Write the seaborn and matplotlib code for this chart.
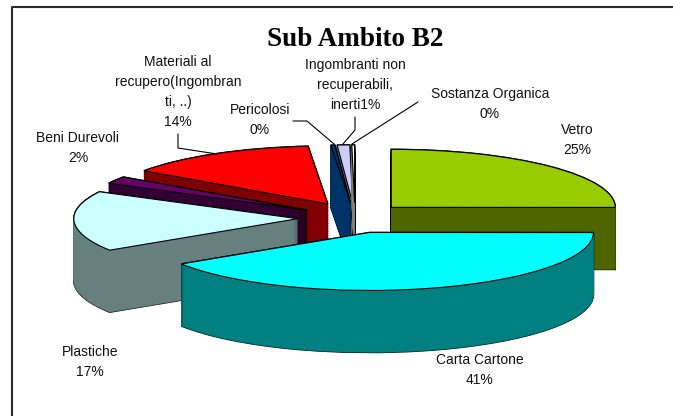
import matplotlib
matplotlib.use("Agg")
import matplotlib.pyplot as plt
import seaborn as sns

# valori
categorie = ["Vetro", "Carta Cartone", "Plastiche", "Beni Durevoli",
             "Materiali al recupero", "Pericolosi", "Ingombranti", "Sostanza Organica"]
valori = [25.0, 40.8, 16.8, 2.0, 13.9, 0.3, 0.9, 0.2]
etichette = ["Vetro\n25%", "Carta Cartone\n41%", "Plastiche\n17%", "Beni Durevoli\n2%",
             "Materiali al\nrecupero(Ingombran\nti, ..)\n14%", "Pericolosi\n0%",
             "Ingombranti non\nrecuperabili,\ninerti1%", "Sostanza Organica\n0%"]
colori_sopra = ["#99CC00", "#00FFFF", "#CCFFFF", "#660066", "#FF0000", "#003366", "#CCCCFF", "#FFFFFF"]
colori_lato = ["#4D6600", "#008080", "#668080", "#330033", "#800000", "#003366", "#666680", "#808080"]

W, H = 673, 416
CX, CY = 350, 218    # centro torta in pixel
RX, RY = 224, 58     # raggi ellisse
PROF = 62            # spessore 3D in pixel
ESPLOSO = 0.26

sns.set_theme(style="white")
plt.rcParams["font.family"] = ["Liberation Sans", "DejaVu Sans"]

fig = plt.figure(figsize=(W / 100, H / 100), dpi=100)
ax = fig.add_axes([0, 0, 1, 1])

# ordine di disegno dal fondo verso il davanti
ordine = {6: 0, 7: 1, 5: 2, 4: 3, 0: 4, 3: 5, 2: 6, 1: 7}
# piccoli spostamenti in pixel per la prospettiva dell'originale
sposta = {1: (3, 0), 2: (6, 0), 3: (7, 0), 4: (7, -1), 5: (5, 0), 6: (5, 0), 7: (5, 0)}


def torta(dy):
    w, _ = ax.pie(valori, explode=[ESPLOSO] * len(valori), startangle=90, counterclock=False,
                  center=(0, -dy / RY), radius=1)
    for i, (dx, dyy) in sposta.items():
        c = w[i].center
        w[i].set_center((c[0] + dx / RX, c[1] - dyy / RY))
    return w


# sagoma nera del solido
for d in range(PROF, -1, -2):
    for i, w in enumerate(torta(d)):
        w.set(facecolor="black", edgecolor="black", linewidth=1.1, zorder=ordine[i] * 10 + 1)

# fianchi
for d in range(PROF, -1, -1):
    for i, w in enumerate(torta(d)):
        w.set(facecolor=colori_lato[i], edgecolor=colori_lato[i], linewidth=0.3, zorder=ordine[i] * 10 + 2)

# faccia superiore
for i, w in enumerate(torta(0)):
    w.set(facecolor=colori_sopra[i], edgecolor="black", linewidth=0.8, zorder=ordine[i] * 10 + 3)

ax.set_aspect("auto")
ax.set_xlim(-CX / RX, (W - CX) / RX)
ax.set_ylim((CY - H) / RY, CY / RY)
ax.axis("off")


def px(x, y):
    return (x - CX) / RX, (CY - y) / RY


# etichette
posizioni = [(577, 140), (480, 370), (90, 362), (78, 148), (178, 92), (260, 120), (355, 85), (490, 104)]
for et, (x, y) in zip(etichette, posizioni):
    ax.text(*px(x, y), et, ha="center", va="center", fontsize=10, color="#111111",
            linespacing=1.55, zorder=200)

# linee guida
guide = [[(293, 121), (307, 121), (334, 144)],
         [(355, 117), (355, 130), (343, 144)],
         [(418, 102), (352, 144)],
         [(178, 134), (178, 148), (217, 154)]]
for g in guide:
    p = [px(*q) for q in g]
    ax.plot([q[0] for q in p], [q[1] for q in p], color="black", lw=0.8, zorder=150)

ax.text(*px(355, 40), "Sub Ambito B2", ha="center", va="center", fontsize=19.5,
        fontweight="bold", family="Liberation Serif", color="black", zorder=200)

# cornice: solo lato sinistro e alto, il resto esce dall'immagine
p = [px(12, H), px(12, 7), px(W, 7)]
ax.plot([q[0] for q in p], [q[1] for q in p], color="#2b2b2b", lw=1.5, zorder=150, clip_on=False)

fig.savefig("out.png", dpi=100, facecolor="white")
